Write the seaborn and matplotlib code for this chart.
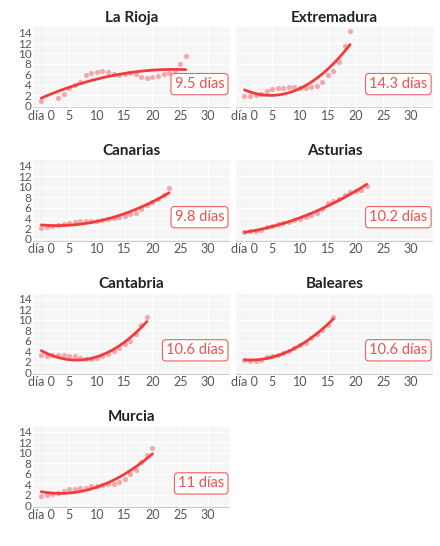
import numpy as np
import pandas as pd
import matplotlib
matplotlib.use("Agg")
import matplotlib.pyplot as plt
import seaborn as sns

regions = ["La Rioja", "Extremadura", "Canarias", "Asturias", "Cantabria", "Baleares", "Murcia"]
labels = ["9.5 días", "14.3 días", "9.8 días", "10.2 días", "10.6 días", "10.6 días", "11 días"]

rioja_x = [0, 3, 4, 5, 6, 7, 8, 9, 10, 11, 12, 13, 14, 15, 16, 17, 18, 19, 20, 21, 22, 23, 24, 25, 26]
rioja_y = [1, 1.5, 2.2, 3.5, 4, 4.5, 5.8, 6.2, 6.5, 6.7, 6.4, 6.0, 5.9, 6.0, 6.2, 6.0, 5.6, 5.4, 5.5, 5.7, 6.0, 6.3, 6.6, 8.0, 9.6]
extre_y = [1.8, 1.8, 2, 2.2, 2.8, 3.2, 3.4, 3.4, 3.6, 3.6, 3.5, 3.5, 3.6, 3.8, 4.6, 5.8, 6.6, 8.4, 11.5, 14.3]
canar_y = [2, 2.2, 2.4, 2.6, 2.8, 3, 3.3, 3.4, 3.5, 3.5, 3.5, 3.6, 3.8, 4, 4.2, 4.4, 4.7, 5, 5.7, 6.4, 7, 7.6, 8.4, 9.8]
astur_y = [1.3, 1.5, 1.6, 1.8, 2.2, 2.5, 2.8, 3, 3.3, 3.6, 3.9, 4.1, 4.5, 5, 5.7, 6.8, 7.2, 7.6, 8.3, 8.9, 9.1, 9.3, 10.2]
cantab_y = [3.2, 3, 3.2, 3.2, 3.3, 3, 3, 2.7, 2.5, 2.5, 2.7, 3, 3.5, 4, 4.5, 5.3, 6, 7.3, 9, 10.6]
balea_y = [2.3, 2.2, 2.2, 2.3, 2.9, 3, 3.3, 3.7, 4, 4.5, 5.1, 5.6, 6.5, 7.2, 8, 9, 10.6]
murcia_y = [1.8, 1.9, 2.1, 2.3, 2.8, 3, 3.1, 3.2, 3.3, 3.6, 3.7, 3.8, 4, 4.1, 4.4, 5, 5.9, 6.8, 8.2, 9.6, 10.9]

series = [
    (rioja_x, rioja_y),
    (list(range(len(extre_y))), extre_y),
    (list(range(len(canar_y))), canar_y),
    (list(range(len(astur_y))), astur_y),
    (list(range(len(cantab_y))), cantab_y),
    (list(range(len(balea_y))), balea_y),
    (list(range(len(murcia_y))), murcia_y),
]

sns.set_style("whitegrid")
plt.rcParams["font.family"] = ["Lato", "DejaVu Sans"]

red = "#f23c3c"
fig, axes = plt.subplots(4, 2, figsize=(4.4, 5.46), dpi=100)
fig.subplots_adjust(left=0.075, right=0.985, top=0.95, bottom=0.07, hspace=0.64, wspace=0.03)

for ax, name, lab, (xs, ys) in zip(axes.flat, regions, labels, series):
    df = pd.DataFrame({"x": xs, "y": ys})
    sns.regplot(data=df, x="x", y="y", order=2, ci=None, ax=ax,
                scatter_kws=dict(s=14, color="#f4a0a4", alpha=0.9, linewidths=0),
                line_kws=dict(color=red, lw=2))
    ax.set_facecolor("#f6f6f6")
    ax.grid(color="white", lw=0.8)
    for s in ax.spines.values():
        s.set_visible(False)
    ax.axvline(0, color="#cccccc", lw=1, zorder=0)
    ax.axhline(-0.5, color="#cccccc", lw=1.5, zorder=0)
    ax.set_xlim(-1.5, 34)
    ax.set_ylim(-0.5, 15)
    ax.set_xticks([0, 5, 10, 15, 20, 25, 30])
    ax.set_xticklabels(["día 0", "5", "10", "15", "20", "25", "30"])
    ax.set_yticks(range(0, 15, 2))
    ax.tick_params(labelsize=9, colors="#555555", length=0, pad=1)
    ax.tick_params(axis="y", labelsize=8.5)
    ax.set_xlabel("")
    ax.set_ylabel("")
    if ax in axes[:, 1]:
        ax.set_yticklabels([])
    ax.set_title(name, fontsize=11, fontweight="bold", color="#222222", pad=4)
    ax.text(0.97, 0.3, lab, transform=ax.transAxes, ha="right", va="center",
            fontsize=10.5, color="#f05050",
            bbox=dict(boxstyle="round,pad=0.25", fc="white", ec="#f06060", lw=0.8))

axes[3, 1].set_visible(False)
fig.savefig("out.png", dpi=100)
